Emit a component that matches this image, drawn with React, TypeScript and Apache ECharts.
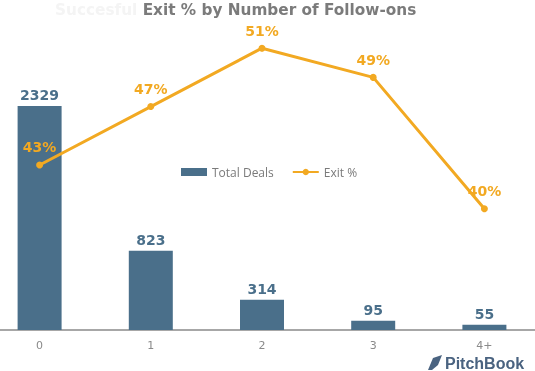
import React, { useEffect, useRef } from "react";
import * as echarts from "echarts";

const categories = ["0", "1", "2", "3", "4+"];
const totalDeals = [2329, 823, 314, 95, 55];
const exitPct = [43, 47, 51, 49, 40];

const OFF = 16; // div shifted left so the category bands extend past the page edge

export default function App() {
  const ref = useRef<HTMLDivElement>(null);
  useEffect(() => {
    if (!ref.current) return;
    const chart = echarts.init(ref.current, undefined, { renderer: "svg" });
    chart.setOption({
      animation: false,
      title: {
        text: "{a|Succesful }{b|Exit % by Number of Follow-ons}",
        left: 55 + OFF,
        top: 2,
        padding: 0,
        textStyle: {
          rich: {
            a: { color: "#f4f4f4", fontSize: 15.3, fontWeight: "bold", fontFamily: "DejaVu Sans" },
            b: { color: "#7b7b7b", fontSize: 15.3, fontWeight: "bold", fontFamily: "DejaVu Sans" },
          },
        },
      },
      legend: {
        top: 161,
        left: 176 + OFF,
        itemWidth: 26,
        itemHeight: 8,
        itemGap: 18,
        textStyle: { color: "#7a7a7a", fontSize: 12, fontFamily: "Open Sans" },
        data: [
          { name: "Total Deals", icon: "rect" },
          { name: "Exit %" },
        ],
      },
      grid: { left: 0, right: 0, top: 40, bottom: 41 },
      xAxis: {
        type: "category",
        data: categories,
        axisLine: { lineStyle: { color: "#8a8a8a", width: 1.5 } },
        axisTick: { show: false },
        axisLabel: { color: "#8a8a8a", fontSize: 11, margin: 10, fontFamily: "DejaVu Sans" },
      },
      yAxis: [
        { type: "value", min: 0, max: 3015, show: false, splitLine: { show: false } },
        { type: "value", min: 31.7, max: 51.56, show: false, splitLine: { show: false } },
      ],
      series: [
        {
          name: "Total Deals",
          type: "bar",
          data: totalDeals,
          barWidth: 44,
          itemStyle: { color: "#4a6f8a" },
          label: {
            show: true,
            position: "top",
            distance: 4,
            color: "#4a6f8a",
            fontWeight: "bold",
            fontSize: 14,
            fontFamily: "DejaVu Sans",
          },
        },
        {
          name: "Exit %",
          type: "line",
          yAxisIndex: 1,
          data: exitPct,
          symbol: "circle",
          symbolSize: 7,
          lineStyle: { color: "#f2a922", width: 3 },
          itemStyle: { color: "#f2a922" },
          label: {
            show: true,
            position: "top",
            distance: 7,
            formatter: "{c}%",
            color: "#f2a922",
            fontWeight: "bold",
            fontSize: 14,
            fontFamily: "DejaVu Sans",
          },
        },
      ],
      graphic: [
        {
          type: "polygon",
          shape: {
            points: [
              [428 + OFF, 370],
              [433 + OFF, 358],
              [442 + OFF, 355],
              [438 + OFF, 365],
              [432 + OFF, 370],
            ],
          },
          style: { fill: "#4a6380" },
        },
        {
          type: "text",
          x: 445 + OFF,
          y: 355,
          style: {
            text: "PitchBook",
            fill: "#4a6380",
            font: "bold 16px 'Liberation Sans'",
          },
        },
      ],
    });
    return () => chart.dispose();
  }, []);
  return (
    <div
      ref={ref}
      style={{ position: "fixed", left: -OFF, top: 0, width: 535 + 21, height: 371 }}
    />
  );
}
